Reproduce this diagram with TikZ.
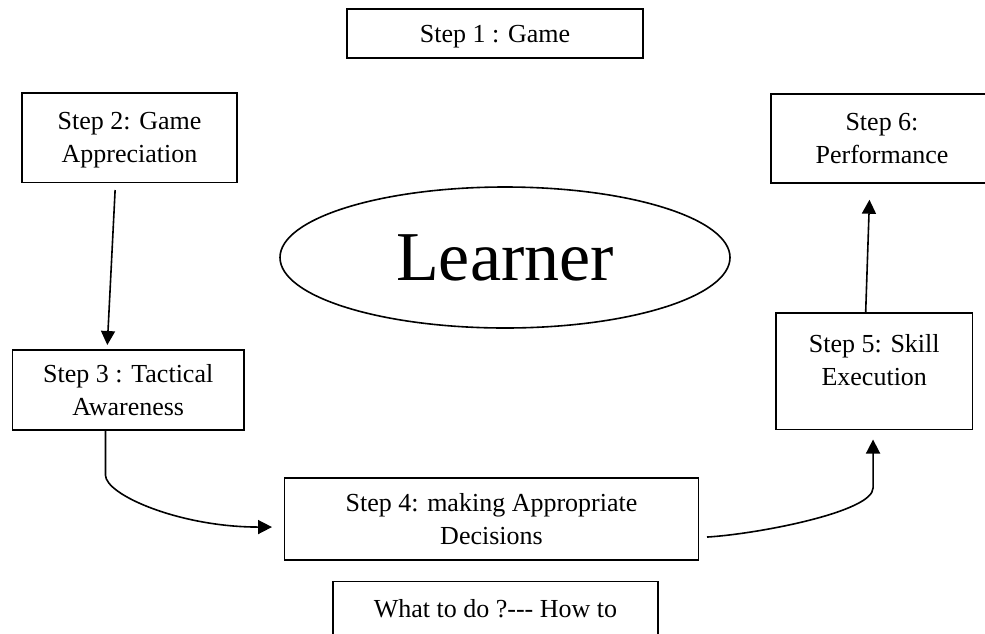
\documentclass[tikz,border=0pt]{standalone}
\usepackage{fontspec}
\setmainfont{Liberation Serif}
\usepackage{tikz}
\usetikzlibrary{arrows.meta,shapes.geometric}

\begin{document}
\begin{tikzpicture}[
    x=0.5pt, y=-0.5pt,
    base/.style = {rectangle, draw=black, line width=0.8pt, inner sep=2pt, outer sep=0pt, text depth=0pt, align=center, font=\fontsize{13}{16.5}\selectfont},
    learner/.style = {ellipse, draw=black, line width=0.8pt, inner sep=0pt, minimum width=225pt, minimum height=70.5pt, font=\fontsize{35}{42}\selectfont},
    flow/.style = {-{Triangle[length=7pt, width=7pt]}, line width=0.8pt},
]
    \useasboundingbox (0,0) rectangle (985,633);

    % steps
    \node[base, minimum width=148pt, minimum height=24.5pt] (step1) at (495,33.5) {Step 1 : Game};
    \node[base, minimum width=107.5pt, minimum height=44.75pt] (step2) at (129.5,137.75) {Step 2: Game\\Appreciation};
    \node[base, minimum width=111pt, minimum height=44.75pt] (step6) at (882,138.5) {Step 6:\\Performance};
    \node[base, minimum width=115.75pt, minimum height=40pt] (step3) at (128.25,390) {Step 3 : Tactical\\Awareness};
    \node[base, minimum width=98.25pt, minimum height=58.25pt, text depth=11.25pt] (step5) at (874.25,371.25) {Step 5: Skill\\Execution};
    \node[base, minimum width=207pt, minimum height=41.15pt] (step4) at (491.5,518.85) {Step 4: making Appropriate\\Decisions};
    \node[base, minimum width=162.5pt, minimum height=26.5pt] (howto) at (495.5,608) {What to do ?-{}-{}- How to};

    % learner
    \node[learner] (learner) at (505,257.5) {Learner};

    % flows
    \draw[flow, shorten <=3.75pt, shorten >=2.5pt] ([xshift=-7pt]step2.south) -- ([xshift=-10.6pt]step3.north);
    \draw[flow] ([xshift=-11.4pt]step3.south) -- ++(0,45) .. controls +(0,20) and +(-92,0) .. ([xshift=-6.25pt, yshift=-4.1pt]step4.west);
    \draw[flow] ([xshift=4.25pt, yshift=-9.1pt]step4.east) .. controls +(50,-3) and +(0,24) .. ([xshift=-0.6pt, yshift=-29.25pt]step5.south) -- ([xshift=-0.6pt, yshift=-5pt]step5.south);
    \draw[flow, shorten >=8.25pt] ([xshift=-4.3pt]step5.north) -- ([xshift=-6pt]step6.south);

\end{tikzpicture}
\end{document}
